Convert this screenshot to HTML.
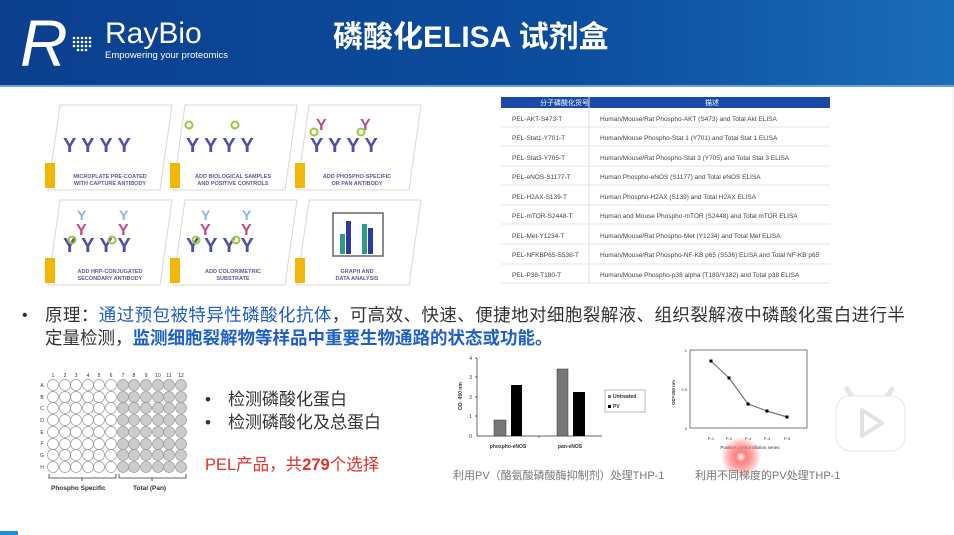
<!DOCTYPE html>
<html><head><meta charset="utf-8"><style>
html,body{margin:0;padding:0;width:954px;height:535px;overflow:hidden;background:#fff}
svg{display:block}
text{font-family:"Liberation Sans","Noto Sans CJK SC",sans-serif}
</style></head><body>
<svg width="954" height="535" viewBox="0 0 954 535" xmlns="http://www.w3.org/2000/svg">
<defs>
<linearGradient id="hg" x1="0" x2="1" y1="0" y2="0"><stop offset="0" stop-color="#0b3f8e"/><stop offset="0.6" stop-color="#0c4d9e"/><stop offset="1" stop-color="#1a6cb8"/></linearGradient>
<radialGradient id="glow"><stop offset="0" stop-color="#fff"/><stop offset="0.25" stop-color="#ff8080"/><stop offset="1" stop-color="#ff4040" stop-opacity="0"/></radialGradient>
</defs>
<rect width="954" height="85" fill="url(#hg)"/>
<rect y="85" width="954" height="2" fill="#6fa0d8"/>
<text x="20" y="66" font-family="Liberation Serif,serif" font-style="italic" font-size="66" fill="#fff">R</text>
<g fill="#fff">
<circle cx="74" cy="38" r="1.3"/><circle cx="78" cy="38" r="1.3"/><circle cx="82" cy="38" r="1.3"/><circle cx="86" cy="38" r="1.3"/><circle cx="90" cy="38" r="1.3"/>
<circle cx="74" cy="42" r="1.3"/><circle cx="78" cy="42" r="1.3"/><circle cx="82" cy="42" r="1.3"/><circle cx="86" cy="42" r="1.3"/><circle cx="90" cy="42" r="1.3"/>
<circle cx="74" cy="46" r="1.3"/><circle cx="78" cy="46" r="1.3"/><circle cx="82" cy="46" r="1.3"/><circle cx="86" cy="46" r="1.3"/><circle cx="90" cy="46" r="1.3"/>
<circle cx="78" cy="50" r="1.3"/><circle cx="82" cy="50" r="1.3"/><circle cx="86" cy="50" r="1.3"/>
</g>
<text x="105" y="43" font-family="Liberation Serif,serif" font-size="30" fill="#fff">RayBio</text>
<text x="105" y="58" font-family="Liberation Serif,serif" font-size="9.5" fill="#fff">Empowering your proteomics</text>
<text x="333" y="47" font-size="30" font-weight="bold" fill="#fff">磷酸化ELISA 试剂盒</text>

<!-- six panels -->
<g stroke="#d8d8d8" fill="none" stroke-width="1">
<path d="M60 105 L172 105 L160 190 L48 190 Z"/><path d="M185 105 L297 105 L285 190 L173 190 Z"/><path d="M309 105 L421 105 L409 190 L297 190 Z"/>
<path d="M60 200 L172 200 L160 285 L48 285 Z"/><path d="M185 200 L297 200 L285 285 L173 285 Z"/><path d="M309 200 L421 200 L409 285 L297 285 Z"/>
</g>
<g fill="#f2b705">
<rect x="45" y="163" width="10" height="25"/><rect x="170" y="163" width="10" height="25"/><rect x="295" y="163" width="10" height="25"/>
<rect x="45" y="258" width="10" height="25"/><rect x="170" y="258" width="10" height="25"/><rect x="295" y="258" width="10" height="25"/>
</g>
<g font-size="20" font-weight="bold" fill="#4d4fa8">
<text x="63" y="152">Y Y Y Y</text><text x="186" y="152">Y Y Y Y</text><text x="310" y="152">Y Y Y Y</text>
<text x="63" y="252">Y Y Y Y</text><text x="186" y="252">Y Y Y Y</text>
</g>
<g fill="#c3498a" font-size="16" font-weight="bold"><text x="316" y="130">Y</text><text x="360" y="130">Y</text><text x="76" y="235">Y</text><text x="118" y="235">Y</text><text x="200" y="235">Y</text><text x="241" y="235">Y</text></g>
<g fill="#8ab8e0" font-size="14" font-weight="bold"><text x="77" y="220">Y</text><text x="119" y="220">Y</text><text x="201" y="220">Y</text><text x="242" y="220">Y</text></g>
<g fill="none" stroke="#9cc83a" stroke-width="2"><circle cx="189" cy="125" r="3.5"/><circle cx="235" cy="125" r="3.5"/><circle cx="314" cy="132" r="3.5"/><circle cx="361" cy="132" r="3.5"/><circle cx="72" cy="240" r="3.5"/><circle cx="112" cy="240" r="3.5"/><circle cx="196" cy="240" r="3.5"/><circle cx="236" cy="240" r="3.5"/></g>
<rect x="333" y="213" width="50" height="43" fill="none" stroke="#666" stroke-width="1.5"/>
<rect x="340" y="234" width="5" height="20" fill="#2a9a92"/><rect x="346" y="221" width="5" height="33" fill="#2f3b9a"/><rect x="362" y="224" width="5" height="30" fill="#2a9a92"/><rect x="368" y="228" width="5" height="26" fill="#2f3b9a"/>
<g font-size="5.5" font-weight="bold" fill="#5a5aa0" text-anchor="middle">
<text x="110" y="178">MICROPLATE PRE-COATED</text><text x="110" y="185">WITH CAPTURE ANTIBODY</text>
<text x="233" y="178">ADD BIOLOGICAL SAMPLES</text><text x="233" y="185">AND POSITIVE CONTROLS</text>
<text x="357" y="178">ADD PHOSPHO-SPECIFIC</text><text x="357" y="185">OR PAN ANTIBODY</text>
<text x="110" y="273">ADD HRP-CONJUGATED</text><text x="110" y="280">SECONDARY ANTIBODY</text>
<text x="233" y="273">ADD COLORIMETRIC</text><text x="233" y="280">SUBSTRATE</text>
<text x="357" y="273">GRAPH AND</text><text x="357" y="280">DATA ANALYSIS</text>
</g>

<!-- table -->
<rect x="501" y="97" width="329" height="11" fill="#1a4aa6"/>
<text x="540" y="105" font-size="7" fill="#fff">分子磷酸化货号</text><text x="705" y="105" font-size="7" fill="#fff">描述</text>
<line x1="589" y1="97" x2="589" y2="283" stroke="#ddd"/>
<g stroke="#e6e6e6"><line x1="501" y1="127" x2="830" y2="127"/><line x1="501" y1="146" x2="830" y2="146"/><line x1="501" y1="166" x2="830" y2="166"/><line x1="501" y1="185" x2="830" y2="185"/><line x1="501" y1="205" x2="830" y2="205"/><line x1="501" y1="224" x2="830" y2="224"/><line x1="501" y1="244" x2="830" y2="244"/><line x1="501" y1="264" x2="830" y2="264"/><line x1="501" y1="283" x2="830" y2="283"/></g>
<g font-size="6.5" fill="#444">
<text x="512" y="121">PEL-AKT-S473-T</text><text x="600" y="121">Human/Mouse/Rat Phospho-AKT (S473) and Total Akt ELISA</text>
<text x="512" y="140">PEL-Stat1-Y701-T</text><text x="600" y="140">Human/Mouse Phospho-Stat 1 (Y701) and Total Stat 1 ELISA</text>
<text x="512" y="160">PEL-Stat3-Y705-T</text><text x="600" y="160">Human/Mouse/Rat Phospho-Stat 3 (Y705) and Total Stat 3 ELISA</text>
<text x="512" y="179">PEL-eNOS-S1177-T</text><text x="600" y="179">Human Phospho-eNOS (S1177) and Total eNOS ELISA</text>
<text x="512" y="199">PEL-H2AX-S139-T</text><text x="600" y="199">Human Phospho-H2AX (S139) and Total H2AX ELISA</text>
<text x="512" y="218">PEL-mTOR-S2448-T</text><text x="600" y="218">Human and Mouse Phospho-mTOR (S2448) and Total mTOR ELISA</text>
<text x="512" y="238">PEL-Met-Y1234-T</text><text x="600" y="238">Human/Mouse/Rat Phospho-Met (Y1234) and Total Met ELISA</text>
<text x="512" y="257">PEL-NFKBP65-S536-T</text><text x="600" y="257">Human/Mouse/Rat Phospho-NF-KB p65 (S536) ELISA and Total NF-KB p65</text>
<text x="512" y="277">PEL-P38-T180-T</text><text x="600" y="277">Human/Mouse Phospho-p38 alpha (T180/Y182) and Total p38 ELISA</text>
</g>

<!-- principle text -->
<text x="22" y="320" font-size="16" fill="#333">•</text>
<text x="45" y="321" font-size="17.5" fill="#333" textLength="860" lengthAdjust="spacing">原理：<tspan fill="#1e5fc8">通过预包被特异性磷酸化抗体</tspan>，可高效、快速、便捷地对细胞裂解液、组织裂解液中磷酸化蛋白进行半</text>
<text x="45" y="344" font-size="17.5" fill="#333">定量检测，<tspan fill="#1e5fc8" font-weight="bold">监测细胞裂解物等样品中重要生物通路的状态或功能。</tspan></text>

<!-- plate -->
<g font-size="5" fill="#333" text-anchor="middle">
<text x="53" y="377">1</text><text x="65" y="377">2</text><text x="76" y="377">3</text><text x="88" y="377">4</text><text x="99" y="377">5</text><text x="111" y="377">6</text><text x="123" y="377">7</text><text x="134" y="377">8</text><text x="146" y="377">9</text><text x="158" y="377">10</text><text x="169" y="377">11</text><text x="181" y="377">12</text>
<text x="42" y="387">A</text><text x="42" y="399">B</text><text x="42" y="410">C</text><text x="42" y="422">D</text><text x="42" y="434">E</text><text x="42" y="445">F</text><text x="42" y="457">G</text><text x="42" y="469">H</text>
</g>
<g stroke="#999" stroke-width="0.7">
<g fill="#fff">
<circle cx="53" cy="385" r="5.5"/><circle cx="65" cy="385" r="5.5"/><circle cx="76" cy="385" r="5.5"/><circle cx="88" cy="385" r="5.5"/><circle cx="99" cy="385" r="5.5"/><circle cx="111" cy="385" r="5.5"/>
<circle cx="53" cy="397" r="5.5"/><circle cx="65" cy="397" r="5.5"/><circle cx="76" cy="397" r="5.5"/><circle cx="88" cy="397" r="5.5"/><circle cx="99" cy="397" r="5.5"/><circle cx="111" cy="397" r="5.5"/>
<circle cx="53" cy="408" r="5.5"/><circle cx="65" cy="408" r="5.5"/><circle cx="76" cy="408" r="5.5"/><circle cx="88" cy="408" r="5.5"/><circle cx="99" cy="408" r="5.5"/><circle cx="111" cy="408" r="5.5"/>
<circle cx="53" cy="420" r="5.5"/><circle cx="65" cy="420" r="5.5"/><circle cx="76" cy="420" r="5.5"/><circle cx="88" cy="420" r="5.5"/><circle cx="99" cy="420" r="5.5"/><circle cx="111" cy="420" r="5.5"/>
<circle cx="53" cy="432" r="5.5"/><circle cx="65" cy="432" r="5.5"/><circle cx="76" cy="432" r="5.5"/><circle cx="88" cy="432" r="5.5"/><circle cx="99" cy="432" r="5.5"/><circle cx="111" cy="432" r="5.5"/>
<circle cx="53" cy="444" r="5.5"/><circle cx="65" cy="444" r="5.5"/><circle cx="76" cy="444" r="5.5"/><circle cx="88" cy="444" r="5.5"/><circle cx="99" cy="444" r="5.5"/><circle cx="111" cy="444" r="5.5"/>
<circle cx="53" cy="455" r="5.5"/><circle cx="65" cy="455" r="5.5"/><circle cx="76" cy="455" r="5.5"/><circle cx="88" cy="455" r="5.5"/><circle cx="99" cy="455" r="5.5"/><circle cx="111" cy="455" r="5.5"/>
<circle cx="53" cy="467" r="5.5"/><circle cx="65" cy="467" r="5.5"/><circle cx="76" cy="467" r="5.5"/><circle cx="88" cy="467" r="5.5"/><circle cx="99" cy="467" r="5.5"/><circle cx="111" cy="467" r="5.5"/>
</g>
<g fill="#ccc">
<circle cx="123" cy="385" r="5.5"/><circle cx="134" cy="385" r="5.5"/><circle cx="146" cy="385" r="5.5"/><circle cx="158" cy="385" r="5.5"/><circle cx="169" cy="385" r="5.5"/><circle cx="181" cy="385" r="5.5"/>
<circle cx="123" cy="397" r="5.5"/><circle cx="134" cy="397" r="5.5"/><circle cx="146" cy="397" r="5.5"/><circle cx="158" cy="397" r="5.5"/><circle cx="169" cy="397" r="5.5"/><circle cx="181" cy="397" r="5.5"/>
<circle cx="123" cy="408" r="5.5"/><circle cx="134" cy="408" r="5.5"/><circle cx="146" cy="408" r="5.5"/><circle cx="158" cy="408" r="5.5"/><circle cx="169" cy="408" r="5.5"/><circle cx="181" cy="408" r="5.5"/>
<circle cx="123" cy="420" r="5.5"/><circle cx="134" cy="420" r="5.5"/><circle cx="146" cy="420" r="5.5"/><circle cx="158" cy="420" r="5.5"/><circle cx="169" cy="420" r="5.5"/><circle cx="181" cy="420" r="5.5"/>
<circle cx="123" cy="432" r="5.5"/><circle cx="134" cy="432" r="5.5"/><circle cx="146" cy="432" r="5.5"/><circle cx="158" cy="432" r="5.5"/><circle cx="169" cy="432" r="5.5"/><circle cx="181" cy="432" r="5.5"/>
<circle cx="123" cy="444" r="5.5"/><circle cx="134" cy="444" r="5.5"/><circle cx="146" cy="444" r="5.5"/><circle cx="158" cy="444" r="5.5"/><circle cx="169" cy="444" r="5.5"/><circle cx="181" cy="444" r="5.5"/>
<circle cx="123" cy="455" r="5.5"/><circle cx="134" cy="455" r="5.5"/><circle cx="146" cy="455" r="5.5"/><circle cx="158" cy="455" r="5.5"/><circle cx="169" cy="455" r="5.5"/><circle cx="181" cy="455" r="5.5"/>
<circle cx="123" cy="467" r="5.5"/><circle cx="134" cy="467" r="5.5"/><circle cx="146" cy="467" r="5.5"/><circle cx="158" cy="467" r="5.5"/><circle cx="169" cy="467" r="5.5"/><circle cx="181" cy="467" r="5.5"/>
</g>
</g>
<path d="M49 474 V478 H116 V474 M82 478 V481 M119 474 V478 H186 V474 M152 478 V481" stroke="#333" fill="none" stroke-width="0.8"/>
<text x="51" y="490" font-size="6.5" font-weight="bold" fill="#333">Phospho Specific</text>
<text x="133" y="490" font-size="6.5" font-weight="bold" fill="#333">Total (Pan)</text>

<g font-size="17" fill="#333">
<text x="205" y="405">•</text><text x="228" y="405">检测磷酸化蛋白</text>
<text x="205" y="428">•</text><text x="228" y="428">检测磷酸化及总蛋白</text>
</g>
<text x="205" y="470" font-size="16.5" fill="#e2322a">PEL产品，共<tspan font-weight="bold">279</tspan>个选择</text>

<!-- bar chart -->
<g stroke="#333" stroke-width="0.7" fill="none">
<path d="M477 358 V436 H602"/><path d="M475 358 H477 M475 377 H477 M475 397 H477 M475 416 H477 M539 436 V438"/>
</g>
<g font-size="5" fill="#333" text-anchor="end"><text x="472" y="360">4</text><text x="472" y="379">3</text><text x="472" y="399">2</text><text x="472" y="418">1</text><text x="472" y="438">0</text></g>
<text x="462" y="410" font-size="5" font-weight="bold" fill="#333" transform="rotate(-90 462 410)">OD- 450 nm</text>
<rect x="494" y="420" width="12" height="16" fill="#777" stroke="#333" stroke-width="0.5"/>
<rect x="511" y="385" width="11" height="51" fill="#000"/>
<rect x="557" y="369" width="11" height="67" fill="#777" stroke="#333" stroke-width="0.5"/>
<rect x="573" y="392" width="12" height="44" fill="#000"/>
<g font-size="5" font-weight="bold" fill="#333" text-anchor="middle"><text x="508" y="448">phospho-eNOS</text><text x="570" y="448">pan-eNOS</text></g>
<rect x="605" y="390" width="40" height="22" fill="#fff" stroke="#888" stroke-width="0.6"/>
<rect x="608" y="395" width="3" height="3" fill="#777"/><rect x="608" y="405" width="3" height="3" fill="#000"/>
<text x="613" y="398" font-size="5" font-weight="bold" fill="#333">Untreated</text><text x="613" y="408" font-size="5" font-weight="bold" fill="#333">PV</text>
<text x="453" y="479" font-size="11" fill="#777">利用PV（酪氨酸磷酸酶抑制剂）处理THP-1</text>

<!-- line chart -->
<rect x="690" y="350" width="117" height="78" fill="none" stroke="#444" stroke-width="0.7"/>
<g font-size="4" fill="#333" text-anchor="end"><text x="687" y="352">1</text><text x="687" y="391">0.5</text><text x="687" y="430">0</text></g>
<text x="675" y="405" font-size="4.5" font-weight="bold" fill="#333" transform="rotate(-90 675 405)">OD=450 nm</text>
<polyline points="711,361 729,378 748,404 767,411 787,417" fill="none" stroke="#777" stroke-width="1.2"/>
<g fill="#000"><rect x="709.5" y="359.5" width="3" height="3"/><rect x="727.5" y="376.5" width="3" height="3"/><rect x="746.5" y="402.5" width="3" height="3"/><rect x="765.5" y="409.5" width="3" height="3"/><rect x="785.5" y="415.5" width="3" height="3"/></g>
<g font-size="4" fill="#333" text-anchor="middle"><text x="711" y="440">P-1</text><text x="729" y="440">P-2</text><text x="748" y="440">P-3</text><text x="767" y="440">P-4</text><text x="787" y="440">P-5</text></g>
<text x="750" y="449" font-size="4.5" fill="#333" text-anchor="middle">Positive control dilution series</text>
<circle cx="741" cy="457" r="20" fill="url(#glow)"/>
<text x="695" y="479" font-size="11" fill="#777">利用不同梯度的PV处理THP-1</text>

<!-- play icon -->
<path d="M853 398 L847 389 M886 398 L892 389" stroke="#e4e4e4" stroke-width="5" stroke-linecap="round"/>
<rect x="836" y="396" width="69" height="55" rx="14" fill="#fff" stroke="#e6e6e6"/>
<path d="M862 410 L882 423 L862 436 Z" fill="none" stroke="#e2e2e2" stroke-width="4" stroke-linejoin="round"/>
<line x1="953" y1="87" x2="953" y2="480" stroke="#eee"/>
<rect x="0" y="531" width="18" height="4" fill="#1b8fe0"/>
</svg>
</body></html>
